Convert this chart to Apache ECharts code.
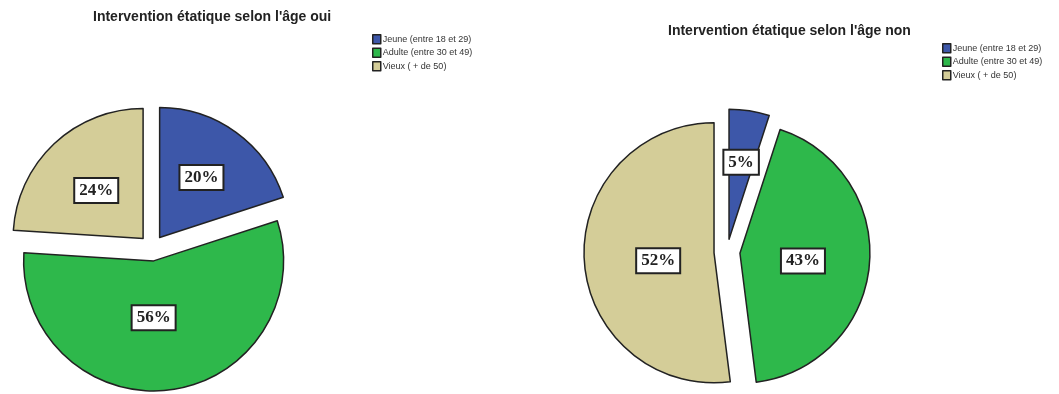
<!DOCTYPE html>
<html>
<head>
<meta charset="utf-8">
<script src="https://cdn.jsdelivr.net/npm/echarts@6/dist/echarts.min.js"></script>
<style>html,body{margin:0;padding:0;background:#fff}#c{width:1059px;height:394px}</style>
</head>
<body>
<div id="c"></div>
<script>
const categories = ["Jeune (entre 18 et 29)", "Adulte (entre 30 et 49)", "Vieux ( + de 50)"];
const valuesOui = [20, 56, 24];
const valuesNon = [5, 43, 52];
const titles = ["Intervention étatique selon l'âge oui", "Intervention étatique selon l'âge non"];
const colors = ["#3d57a9", "#2eb84b", "#d4cd98"];
// small nudges of the label boxes (style only)
const labelNudge = [
  [[-20, 5], [0, 12], [18, 17]],
  [[-8, -12], [-2, 5], [1, 8]]
];

function mkData(vals) {
  return categories.map((n, i) => ({ name: n, value: vals[i], selected: true,
    itemStyle: { color: colors[i] } }));
}
const labelStyle = {
  show: true, position: 'inside', formatter: '{c}%',
  fontFamily: 'Liberation Serif', fontSize: 17, fontWeight: 'bold', color: '#222',
  backgroundColor: '#fff', borderColor: '#222', borderWidth: 2, padding: [4, 4, 2, 4]
};
function mkSeries(vals, center, si) {
  return {
    type: 'pie', radius: 130, center: center, startAngle: 90, clockwise: true,
    selectedMode: 'multiple', selectedOffset: 13, animation: false,
    data: mkData(vals),
    itemStyle: { borderColor: '#222', borderWidth: 1.5 },
    label: labelStyle, labelLine: { show: false },
    labelLayout: function (p) { const n = labelNudge[si][p.dataIndex]; return { dx: n[0], dy: n[1] }; },
    emphasis: { disabled: true },
    select: { itemStyle: { borderColor: '#222', borderWidth: 1.5 }, label: labelStyle }
  };
}
const legendCommon = {
  orient: 'vertical', icon: 'rect', itemWidth: 8, itemHeight: 9, itemGap: 3, padding: 0,
  selectedMode: false, data: categories,
  itemStyle: { borderColor: '#222', borderWidth: 1.5 },
  textStyle: { fontSize: 9, lineHeight: 9, color: '#333', fontFamily: 'Liberation Sans', padding: [0, 0, 0, -3] }
};
const titleStyle = { fontSize: 14, fontWeight: 'bold', color: '#222', fontFamily: 'Liberation Sans' };
const chart = echarts.init(document.getElementById('c'));
chart.setOption({
  backgroundColor: '#fff',
  title: [
    { text: titles[0], left: 93, top: 10, padding: 0, textStyle: titleStyle },
    { text: titles[1], left: 668, top: 24, padding: 0, textStyle: titleStyle }
  ],
  legend: [
    Object.assign({}, legendCommon, { left: 372, top: 34 }),
    Object.assign({}, legendCommon, { left: 942, top: 43 })
  ],
  series: [
    mkSeries(valuesOui, [152, 248], 0),
    mkSeries(valuesNon, [727, 252], 1)
  ]
});
</script>
</body>
</html>
